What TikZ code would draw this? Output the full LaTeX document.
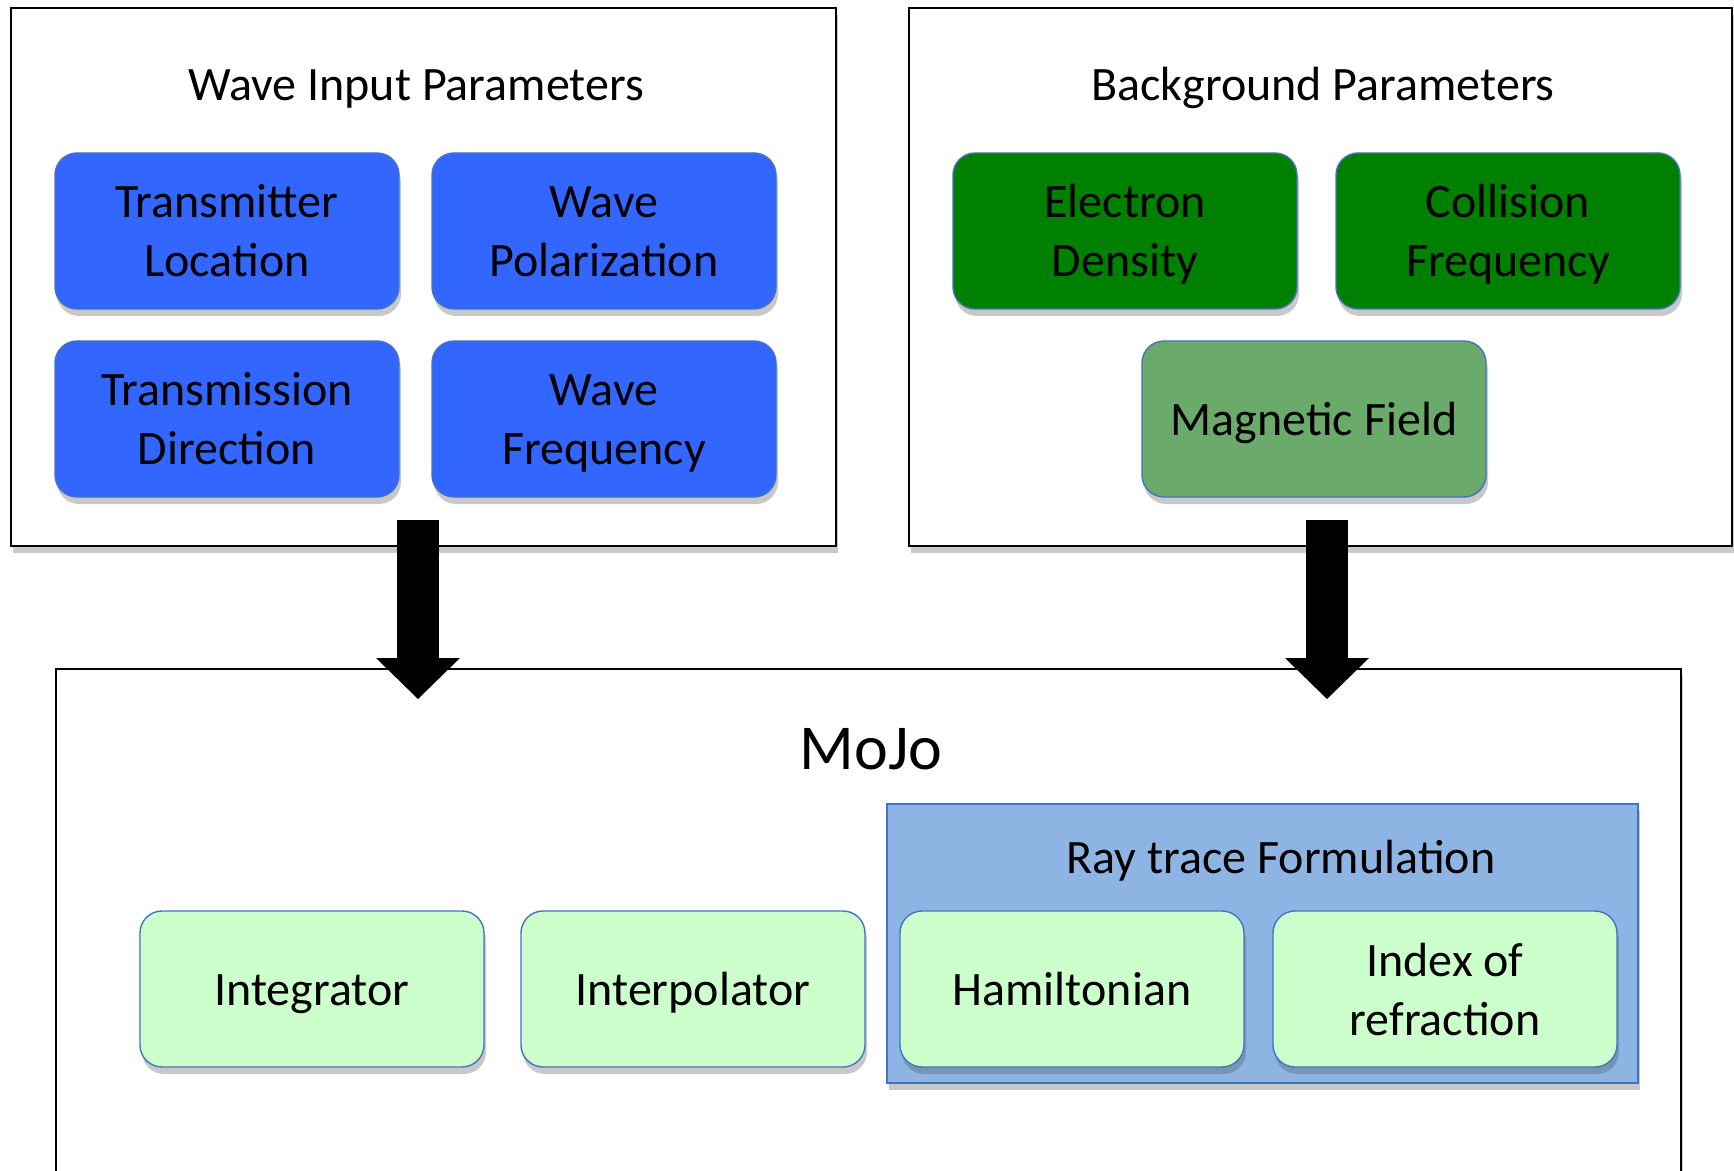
\documentclass[tikz,border=0pt]{standalone}
\usepackage{fontspec}
\setmainfont{Carlito}
\usetikzlibrary{shadows,arrows.meta}

\definecolor{waveblue}{RGB}{51,102,255}
\definecolor{bggreen}{RGB}{0,128,0}
\definecolor{fieldgreen}{RGB}{106,170,106}
\definecolor{modgreen}{RGB}{204,255,204}
\definecolor{raybg}{RGB}{142,180,227}
\definecolor{edgeblue}{RGB}{68,114,196}

% struts that fix where the lines sit inside a card
\newcommand{\cardtop}{\rule{0pt}{23.5pt}}
\newcommand{\cardbottom}{\rule[-7pt]{0pt}{7pt}}

\tikzset{
  softshadow/.style={drop shadow={shadow xshift=1pt,shadow yshift=-3.5pt,opacity=0.3,fill=black!70}},
  frame/.style={draw=black,line width=1.3pt,fill=white,softshadow},
  title/.style={font=\fontsize{24}{29}\selectfont},
  card/.style={rounded corners=11pt,draw=edgeblue,line width=0.7pt,
    minimum width=172pt,minimum height=78pt,align=center,
    font=\fontsize{24}{29.5}\selectfont,softshadow},
  wavecard/.style={card,fill=waveblue},
  bgcard/.style={card,fill=bggreen},
  fieldcard/.style={card,fill=fieldgreen},
  modcard/.style={card,fill=modgreen},
  bigarrow/.style={line width=21pt,-{Triangle[width=42pt,length=20.5pt,line width=0pt]}}
}

\begin{document}
\begin{tikzpicture}[x=0.5pt,y=-0.5pt]
  \clip (0,0) rectangle (1734,1171);
  % Frames
  \draw[frame] (11,8) rectangle (836,546);
  \draw[frame] (909,8) rectangle (1732,546);
  \draw[frame] (56,669) rectangle (1681,1220);
  % Wave input
  \node[title] (wavetitle) at (416,89) {Wave Input Parameters};
  \node[wavecard] (txloc) at (227,231) {\cardtop Transmitter\\Location\cardbottom};
  \node[wavecard] (wavepol) at (604,231) {\cardtop Wave\\Polarization\cardbottom};
  \node[wavecard] (txdir) at (227,419) {\cardtop Transmission\\Direction\cardbottom};
  \node[wavecard] (wavefreq) at (604,419) {\cardtop Wave\\Frequency\cardbottom};
  % Background
  \node[title] (bgtitle) at (1323,88) {Background Parameters};
  \node[bgcard] (edens) at (1125,231) {\cardtop Electron\\Density\cardbottom};
  \node[bgcard] (collfreq) at (1508,231) {\cardtop Collision\\Frequency\cardbottom};
  \node[fieldcard] (magfield) at (1314,419) {\cardtop Magnetic Field\cardbottom};
  % MoJo
  \node[font=\fontsize{32}{38}\selectfont] (mojo) at (871,749) {MoJo};
  \draw[draw=edgeblue,line width=1pt,fill=raybg,softshadow] (887,804) rectangle (1638,1083);
  \node[title] (raytitle) at (1281,861) {Ray trace Formulation};
  \node[modcard] (integ) at (312,989) {\cardtop Integrator\cardbottom};
  \node[modcard] (interp) at (693,989) {\cardtop Interpolator\cardbottom};
  \node[modcard] (hamil) at (1072,989) {\cardtop Hamiltonian\cardbottom};
  \node[modcard] (refidx) at (1445,989) {\cardtop Index of\\refraction\cardbottom};
  % Arrows
  \coordinate (wavetop) at (418,520);
  \coordinate (wavetip) at (418,699);
  \coordinate (bgtop) at (1327,520);
  \coordinate (bgtip) at (1327,699);
  \draw[bigarrow] (wavetop) -- (wavetip);
  \draw[bigarrow] (bgtop) -- (bgtip);
\end{tikzpicture}
\end{document}
